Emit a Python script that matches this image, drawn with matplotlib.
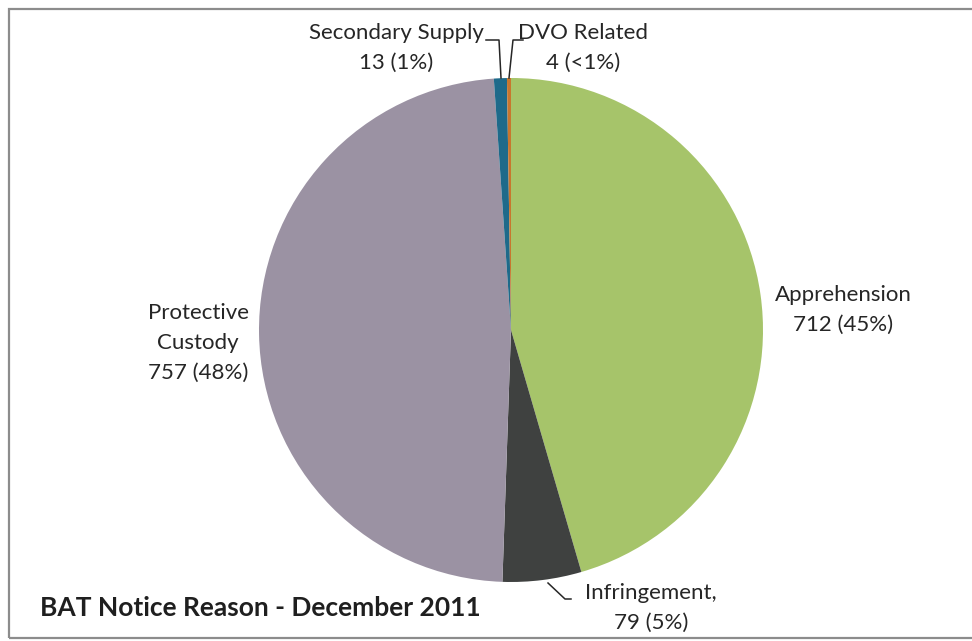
import matplotlib
matplotlib.use("Agg")
import matplotlib.pyplot as plt
from matplotlib.patches import Rectangle

categories = ["Apprehension", "Infringement", "Protective Custody",
              "Secondary Supply", "DVO Related"]
counts = [712, 79, 757, 13, 4]
label_texts = ["Apprehension\n712 (45%)", "Infringement,\n79 (5%)",
               "Protective\nCustody\n757 (48%)", "Secondary Supply\n13 (1%)",
               "DVO Related\n4 (<1%)"]
colors = ["#a6c46a", "#3f4140", "#9b92a3", "#1e6a8a", "#c8762e"]

W, H = 972, 641
fig = plt.figure(figsize=(W / 100, H / 100), dpi=100)
ax = fig.add_axes([0, 0, 1, 1])

plt.rcParams["font.family"] = ["Lato", "DejaVu Sans"]

cx, cy, r = 511, H - 330, 252
ax.pie(counts, colors=colors, startangle=90, counterclock=False,
       center=(cx, cy), radius=r, frame=True,
       wedgeprops=dict(linewidth=0))
ax.set_xlim(0, W)
ax.set_ylim(0, H)
ax.set_aspect("equal")
ax.axis("off")

# chart frame
ax.add_patch(Rectangle((9, H - 638), W + 20, 629, fill=False,
                       edgecolor="#8c8c8c", linewidth=1.6))

txt = dict(fontsize=16, color="#262626", ha="center", va="center",
           linespacing=1.6)

def y(p):
    return H - p

ax.text(843, y(310), label_texts[0], **txt)
ax.text(651, y(608), label_texts[1], **txt)
ax.text(198, y(343), label_texts[2], **txt)
ax.text(396, y(48), label_texts[3], **txt)
ax.text(583, y(48), label_texts[4], **txt)

lc = dict(color="#262626", linewidth=1.1)
ax.plot([486, 499, 501], [y(40), y(40), y(78)], **lc)
ax.plot([523, 513, 509], [y(40), y(40), y(78)], **lc)
ax.plot([548, 565, 571], [y(583), y(599), y(599)], **lc)

ax.text(40, y(608), "BAT Notice Reason - December 2011", fontsize=19,
        fontweight="bold", color="#1f1f1f", ha="left", va="center")

fig.savefig("out.png", dpi=100, facecolor="white")
